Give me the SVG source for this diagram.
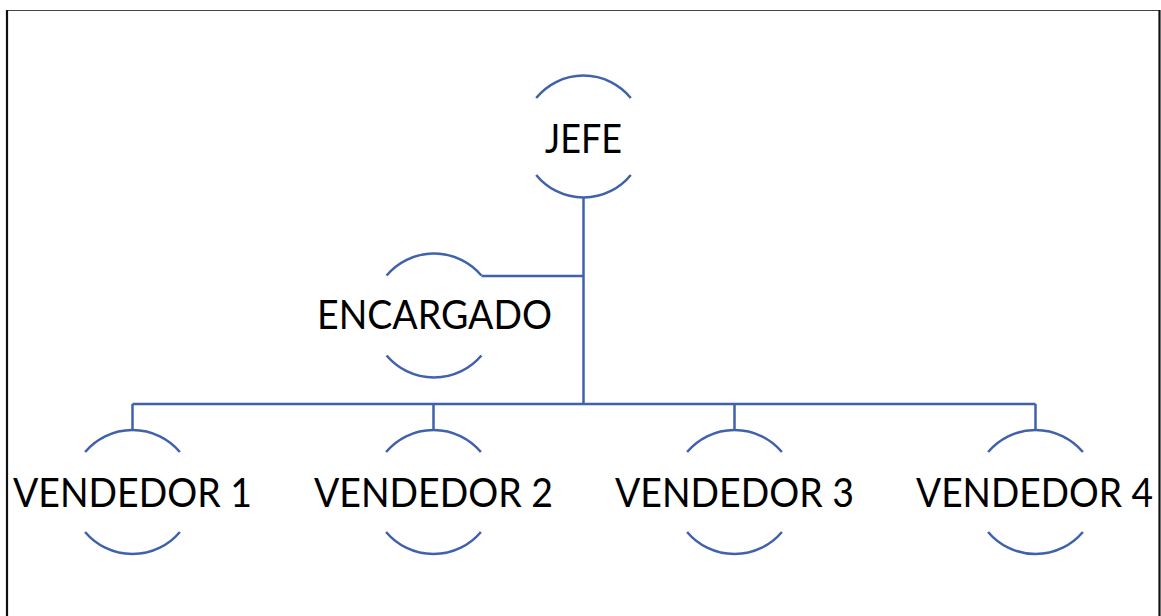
<svg xmlns="http://www.w3.org/2000/svg" width="1161" height="616" viewBox="0 0 1161 616">
  <style>
    .arc { fill: none; stroke: #3F62AB; stroke-width: 2.5; }
    .conn { fill: none; stroke: #3F62AB; stroke-width: 2.5; }
    .label { font-family: Lato, "Liberation Sans", sans-serif; font-size: 40px; fill: #000; text-anchor: middle; }
  </style>
  <rect width="1161" height="616" fill="#fff"/>
  <!-- page frame -->
  <g id="frame">
    <line x1="7" y1="10.5" x2="1160" y2="10.5" stroke="#444" stroke-width="1.2"/>
    <line x1="7" y1="10" x2="7" y2="616" stroke="#111" stroke-width="2.2"/>
    <line x1="1159.5" y1="10" x2="1159.5" y2="616" stroke="#111" stroke-width="2.2"/>
  </g>
  <!-- connectors -->
  <g id="connectors">
    <path class="conn" d="M583.5 197.5 V404"/>
    <path class="conn" d="M481.5 276 H583.5"/>
    <path class="conn" d="M132.5 404 H1035.5"/>
    <path class="conn" d="M132.5 404 V430"/>
    <path class="conn" d="M433.5 404 V430"/>
    <path class="conn" d="M734.5 404 V430"/>
    <path class="conn" d="M1035.5 404 V430"/>
  </g>
  <g id="jefe">
    <path class="arc" d="M536.2 98 A61 61 0 0 1 630.8 98"/>
    <path class="arc" d="M536.2 175 A61 61 0 0 0 630.8 175"/>
    <text class="label" x="583.5" y="153" textLength="77" lengthAdjust="spacingAndGlyphs">JEFE</text>
  </g>
  <g id="encargado">
    <path class="arc" d="M386.6 275.5 A62 62 0 0 1 481.4 275.5"/>
    <path class="arc" d="M386.6 355.5 A62 62 0 0 0 481.4 355.5"/>
    <text class="label" x="434.5" y="329" textLength="235" lengthAdjust="spacingAndGlyphs">ENCARGADO</text>
  </g>
  <g id="vendedor1">
    <path class="arc" d="M85.1 452 A62 62 0 0 1 179.9 452"/>
    <path class="arc" d="M85.1 532 A62 62 0 0 0 179.9 532"/>
    <text class="label" x="132.5" y="507" textLength="239" lengthAdjust="spacingAndGlyphs">VENDEDOR 1</text>
  </g>
  <g id="vendedor2">
    <path class="arc" d="M386.1 452 A62 62 0 0 1 480.9 452"/>
    <path class="arc" d="M386.1 532 A62 62 0 0 0 480.9 532"/>
    <text class="label" x="433.5" y="507" textLength="239" lengthAdjust="spacingAndGlyphs">VENDEDOR 2</text>
  </g>
  <g id="vendedor3">
    <path class="arc" d="M687.1 452 A62 62 0 0 1 781.9 452"/>
    <path class="arc" d="M687.1 532 A62 62 0 0 0 781.9 532"/>
    <text class="label" x="734.5" y="507" textLength="239" lengthAdjust="spacingAndGlyphs">VENDEDOR 3</text>
  </g>
  <g id="vendedor4">
    <path class="arc" d="M988.1 452 A62 62 0 0 1 1082.9 452"/>
    <path class="arc" d="M988.1 532 A62 62 0 0 0 1082.9 532"/>
    <text class="label" x="1034.5" y="507" textLength="237" lengthAdjust="spacingAndGlyphs">VENDEDOR 4</text>
  </g>
</svg>
